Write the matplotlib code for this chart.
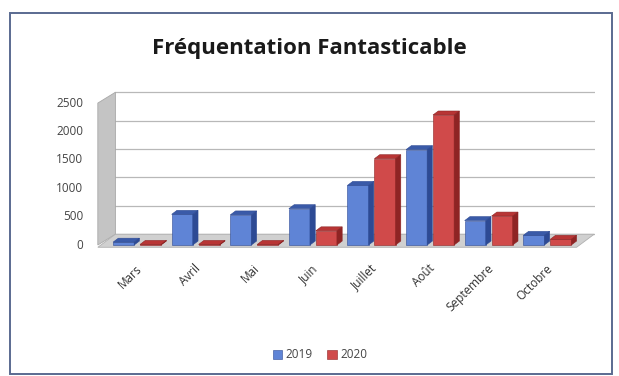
import numpy as np
import matplotlib

matplotlib.use("Agg")
import matplotlib.pyplot as plt
from matplotlib.patches import Polygon, Rectangle

# data
months = ["Mars", "Avril", "Mai", "Juin", "Juillet", "Août", "Septembre", "Octobre"]
visits_2019 = [50, 540, 530, 640, 1050, 1680, 430, 170]
visits_2020 = [10, 10, 10, 250, 1520, 2290, 510, 100]
y_ticks = [0, 500, 1000, 1500, 2000, 2500]

BLUE = ("#5f84d6", "#3a5aa8", "#2d4a94")   # front, top, side
RED = ("#d04a4a", "#b83535", "#8e2424")

plt.rcParams["font.family"] = ["Open Sans", "DejaVu Sans"]

fig = plt.figure(figsize=(6.19, 3.76), dpi=100)
fig.patches.append(Rectangle((0.016, 0.004), 0.972, 0.961, transform=fig.transFigure,
                             fill=False, edgecolor="#5a6a90", lw=1.4))
fig.text(0.5, 0.872, "Fréquentation Fantasticable", ha="center", va="center",
         fontsize=16, fontweight="bold", color="#1a1a1a")

ax = fig.add_axes([0.1535, 0.3218, 0.8078, 0.452])
ax.set_xlim(-0.768, 7.765)
ax.set_ylim(-176, 2817)
ax.axis("off")

n = len(months)
x0, x1 = -0.72, n - 0.55
dxw, dyw = 0.3, 190      # depth of wall / floor
dxb, dyb = 0.09, 70      # depth of a bar

# back wall gridlines and left wall
for v in y_ticks:
    ax.plot([x0 + dxw, x1 + dxw], [v + dyw, v + dyw], color="#b8b8b8", lw=0.9, zorder=1)
    ax.text(x0 - 0.25, v, str(v), ha="right", va="center", fontsize=8.5, color="#444444")
ax.add_patch(Polygon([(x0, 0), (x0 + dxw, dyw), (x0 + dxw, y_ticks[-1] + dyw),
                      (x0, y_ticks[-1])], closed=True, facecolor="#c4c4c4",
                     edgecolor="#a8a8a8", lw=0.6, zorder=1))
ax.add_patch(Polygon([(x0, -40), (x1, -40), (x1 + dxw, dyw), (x0 + dxw, dyw)],
                     closed=True, facecolor="#d0d0d0", edgecolor="#b0b0b0",
                     lw=0.6, zorder=1))


def bar3d(left, h, width, cols, z):
    ax.bar(left, h, width=width, align="edge", color=cols[0],
           edgecolor=cols[2], lw=0.4, zorder=z)
    ax.add_patch(Polygon([(left, h), (left + width, h), (left + width + dxb, h + dyb),
                          (left + dxb, h + dyb)], closed=True, facecolor=cols[1],
                         edgecolor=cols[2], lw=0.4, zorder=z))
    ax.add_patch(Polygon([(left + width, 0), (left + width + dxb, dyb),
                          (left + width + dxb, h + dyb), (left + width, h)], closed=True,
                         facecolor=cols[2], edgecolor=cols[2], lw=0.4, zorder=z))


xs = np.arange(n)
for i in range(n):
    bar3d(xs[i] - 0.46, visits_2019[i], 0.36, BLUE, 3)
    bar3d(xs[i] + 0.0, visits_2020[i], 0.36, RED, 4)
    ax.text(xs[i] - 0.08, -300, months[i], rotation=45, rotation_mode="anchor",
            ha="right", va="top", fontsize=8.5, color="#333333")

# legend
handles = [Rectangle((0, 0), 1, 1, facecolor=BLUE[0], edgecolor=BLUE[2], lw=0.4),
           Rectangle((0, 0), 1, 1, facecolor=RED[0], edgecolor=RED[2], lw=0.4)]
fig.legend(handles, ["2019", "2020"], loc="center", bbox_to_anchor=(0.517, 0.056),
           ncol=2, frameon=False, fontsize=8.5, handlelength=0.8, handleheight=0.8,
           handletextpad=0.3, columnspacing=1.2, labelcolor="#444444")

fig.savefig("out.png", dpi=100, facecolor="white")
